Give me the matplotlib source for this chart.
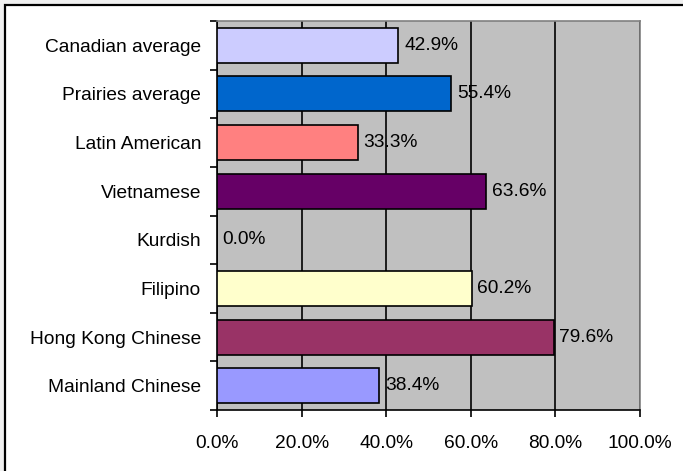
import numpy as np
import matplotlib
matplotlib.use("Agg")
import matplotlib.pyplot as plt
from matplotlib.patches import Rectangle
from matplotlib.ticker import FixedLocator, NullFormatter

plt.rcParams['font.family'] = ['Liberation Sans', 'DejaVu Sans']

# bottom to top
groups = ["Mainland Chinese", "Hong Kong Chinese", "Filipino", "Kurdish",
          "Vietnamese", "Latin American", "Prairies average", "Canadian average"]
values = [38.4, 79.6, 60.2, 0.0, 63.6, 33.3, 55.4, 42.9]
colors = ["#9999FF", "#993366", "#FFFFCC", "#FFFFFF",
          "#660066", "#FF8080", "#0066CC", "#CCCCFF"]
xticks = [0, 20, 40, 60, 80, 100]

FS = 13.8
W, H = 683, 471
fig = plt.figure(figsize=(W / 100, H / 100), dpi=100)
fig.patch.set_facecolor("#F0F0F0")

# white chart area with black border (left/top visible)
fig.patches.append(Rectangle((5 / W, -0.1), 1.2, (H - 5) / H + 0.1,
                             transform=fig.transFigure, facecolor="white",
                             edgecolor="black", linewidth=1.6, zorder=-5))

ax = fig.add_axes([217 / W, (H - 410) / H, (640 - 217) / W, (410 - 21) / H])
ax.set_facecolor("#C0C0C0")

y = np.arange(len(groups))
bars = ax.barh(y, values, height=0.72, color=colors, edgecolor="black",
               linewidth=1.2, zorder=3)
for b, v in zip(bars, values):
    if v == 0:
        b.set_visible(False)
    ax.annotate(f"{v:.1f}%", (v, b.get_y() + b.get_height() / 2),
                xytext=(4, 0), textcoords="offset points",
                va="center", ha="left", fontsize=FS, zorder=4)

ax.set_xlim(0, 100)
ax.set_ylim(-0.5, len(groups) - 0.5)
ax.set_xticks(xticks)
ax.set_xticklabels([f"{t:.1f}%" for t in xticks])
ax.grid(axis="x", color="black", linewidth=1.2, zorder=1)
ax.set_axisbelow(True)

# y ticks at the category boundaries, labels at the centres
ax.yaxis.set_major_locator(FixedLocator(np.arange(-0.5, len(groups), 1.0)))
ax.yaxis.set_major_formatter(NullFormatter())
ax.yaxis.set_minor_locator(FixedLocator(y))
ax.set_yticklabels(groups, minor=True)
ax.tick_params(axis="y", which="major", direction="out", length=5, width=1.2)
ax.tick_params(axis="y", which="minor", length=0, pad=11.5, labelsize=FS)
ax.tick_params(axis="x", direction="out", length=5, width=1.2, pad=13.2,
               labelsize=FS)

for s in ["left", "bottom"]:
    ax.spines[s].set_color("black")
    ax.spines[s].set_linewidth(1.2)
for s in ["top", "right"]:
    ax.spines[s].set_color("#808080")
    ax.spines[s].set_linewidth(1.2)

fig.savefig("out.png", dpi=100)
